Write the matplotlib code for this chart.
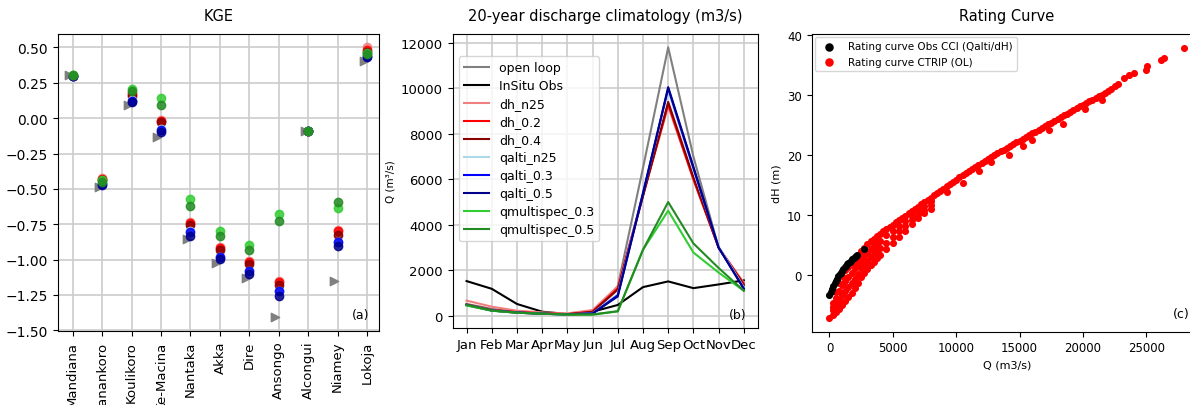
import matplotlib
matplotlib.use("Agg")
import matplotlib.pyplot as plt
import numpy as np

# --- KGE per station ---
stations = ["Mandiana", "Banankoro", "Koulikoro", "Ke-Macina", "Nantaka", "Akka",
            "Dire", "Ansongo", "Alcongui", "Niamey", "Lokoja"]
kge_open_loop = [0.305, -0.488, 0.09, -0.134, -0.853, -1.028, -1.131, -1.41, -0.09, -1.155, 0.405]
kge_dh_n25 = [0.30, -0.425, 0.175, -0.015, -0.735, -0.91, -1.01, -1.155, -0.09, -0.79, 0.50]
kge_dh_02 = [0.30, -0.43, 0.17, -0.02, -0.74, -0.915, -1.015, -1.16, -0.09, -0.80, 0.48]
kge_dh_04 = [0.30, -0.44, 0.16, -0.03, -0.755, -0.93, -1.03, -1.178, -0.09, -0.825, 0.47]
kge_qalti_n25 = [0.30, -0.46, 0.13, -0.08, -0.80, -0.98, -1.08, -1.22, -0.09, -0.875, 0.445]
kge_qalti_03 = [0.30, -0.465, 0.125, -0.085, -0.806, -0.983, -1.084, -1.226, -0.09, -0.879, 0.44]
kge_qalti_05 = [0.30, -0.47, 0.115, -0.101, -0.83, -0.998, -1.10, -1.261, -0.09, -0.907, 0.435]
kge_qms_03 = [0.305, -0.44, 0.207, 0.141, -0.573, -0.795, -0.896, -0.679, -0.09, -0.636, 0.46]
kge_qms_05 = [0.305, -0.448, 0.19, 0.094, -0.618, -0.837, -0.936, -0.724, -0.09, -0.594, 0.455]

# --- monthly discharge climatology (m3/s) ---
months = ["Jan", "Feb", "Mar", "Apr", "May", "Jun", "Jul", "Aug", "Sep", "Oct", "Nov", "Dec"]
q_open_loop = [520, 300, 180, 110, 60, 150, 1300, 6500, 11800, 7000, 3000, 1300]
q_insitu = [1525, 1185, 518, 178, 74, 178, 474, 1259, 1510, 1214, 1377, 1555]
q_dh_n25 = [666, 400, 222, 148, 104, 252, 1290, 5300, 9200, 6000, 3000, 1450]
q_dh_02 = [500, 260, 160, 110, 70, 180, 1200, 5300, 9300, 6000, 3000, 1400]
q_dh_04 = [480, 250, 150, 100, 65, 170, 1150, 5250, 9400, 6100, 3000, 1350]
q_qalti_n25 = [480, 240, 140, 90, 60, 110, 950, 5400, 9900, 6400, 3050, 1250]
q_qalti_03 = [480, 230, 140, 90, 60, 100, 900, 5400, 10000, 6500, 3000, 1200]
q_qalti_05 = [470, 230, 135, 88, 58, 95, 850, 5350, 10050, 6550, 3000, 1180]
q_qms_03 = [450, 220, 130, 90, 50, 50, 190, 2900, 4620, 2780, 1900, 1100]
q_qms_05 = [480, 230, 135, 90, 55, 55, 200, 2900, 5000, 3180, 2100, 1100]

# --- rating curves: discharge (m3/s) vs water height (m) ---
obs_q = [0, 100, 200, 300, 400, 500, 600, 700, 800, 900, 1000, 1100, 1200, 1300, 1400,
         1500, 1600, 1700, 1800, 1900, 2000, 2100, 2180, 2710]
obs_dh = [-3.3, -2.8, -2.3, -1.8, -1.4, -1.0, -0.6, -0.25, 0.1, 0.4, 0.7, 1.0, 1.3, 1.55, 1.8,
          2.0, 2.2, 2.4, 2.6, 2.8, 3.0, 3.2, 3.4, 4.4]

# CTRIP open loop, upper edge of the cloud
ctrip_q_top = [0, 250, 500, 750, 1000, 1250, 1500, 1750, 2000, 2250, 2500, 2750, 3000, 3250,
               3500, 3750, 4000, 4250, 4500, 4750, 5000, 5250, 5500, 5750, 6000, 6250, 6500,
               6750, 7000, 7250, 7500, 7750, 8000, 8250, 8500, 8750, 9000, 9250, 9500, 9750,
               10000, 10250, 10500, 10750, 11000, 11250, 11500, 11750, 12000, 12250, 12500,
               12750, 13000, 13250, 13500, 13750, 14000, 14250, 14500, 14750, 15000, 15250,
               15500, 15750, 16000, 16250, 16500, 16750, 17000, 17250, 17500, 17750, 18000,
               18250, 18500, 18750, 19000, 19250, 19500, 19750, 20000, 20250, 20500, 20750,
               21000, 21250, 21500, 21750, 22000, 22250, 22500, 22750,
               23240, 23630, 24030, 24950, 25080, 26130, 26400, 28000]
ctrip_dh_top = [-7.2, -4.6, -2.8, -1.3, -0.1, 0.75, 1.4, 2.0, 2.7, 3.35, 4.0, 4.55, 5.1, 5.6,
                6.05, 6.5, 6.9, 7.3, 7.7, 8.05, 8.4, 8.75, 9.1, 9.5, 9.9, 10.25, 10.6,
                11.0, 11.4, 11.75, 12.1, 12.5, 12.9, 13.25, 13.6, 14.0, 14.4, 14.75, 15.1, 15.5,
                15.9, 16.25, 16.6, 16.95, 17.3, 17.65, 18.0, 18.3, 18.6, 18.95, 19.3,
                19.65, 20.0, 20.3, 20.6, 20.9, 21.2, 21.5, 21.8, 22.1, 22.4, 22.7,
                23.0, 23.3, 23.6, 23.9, 24.2, 24.5, 24.8, 25.1, 25.4, 25.7, 26.0,
                26.3, 26.6, 26.9, 27.2, 27.5, 27.8, 28.1, 28.4, 28.7, 29.0, 29.2,
                29.5, 29.8, 30.0, 30.3, 30.6, 31.0, 31.5, 31.8,
                32.8, 33.3, 33.7, 34.2, 34.8, 35.8, 36.2, 37.9]

# CTRIP open loop, points spread below the upper edge
ctrip_q_low = [250, 500, 750, 1000, 1250, 1500, 1750, 2000, 2250, 2500, 2750, 3000, 3250,
               3500, 3750, 4000, 4500, 5000, 5500, 6000, 6500, 7000, 7500, 8000]
ctrip_dh_mid1 = [-5.3, -3.9, -2.7, -1.7, -1.0, -0.3, 0.3, 1.1, 1.8, 2.5, 3.1, 3.7, 4.3,
                 4.8, 5.3, 5.7, 6.6, 7.4, 8.2, 9.0, 9.9, 10.8, 11.5, 12.3]
ctrip_dh_mid2 = [-5.9, -5.0, -4.2, -3.4, -2.7, -2.0, -1.3, -0.6, 0.2, 1.1, 1.7, 2.4, 3.0,
                 3.5, 4.0, 4.5, 5.4, 6.3, 7.3, 8.2, 9.2, 10.1, 10.9, 11.6]
ctrip_dh_low = [-6.6, -6.1, -5.6, -5.0, -4.4, -3.7, -3.0, -2.2, -1.4, -0.4, 0.3, 1.0, 1.7,
                2.2, 2.8, 3.3, 4.3, 5.3, 6.4, 7.3, 8.5, 9.5, 10.3, 11.0]
ctrip_q_dip = [9290, 10500, 11800, 12710, 14200, 15300, 16000, 17300, 18400, 20200, 21500]
ctrip_dh_dip = [13.9, 15.4, 17.3, 18.9, 20.0, 21.5, 22.5, 24.2, 25.2, 27.6, 29.2]

fig = plt.figure(figsize=(11.9, 4.06), dpi=100)
title_font = ["Liberation Sans Narrow", "DejaVu Sans"]

# (a) KGE scatter
ax1 = fig.add_axes([0.0487, 0.1823, 0.2697, 0.7315])
x = np.arange(len(stations))
ax1.scatter(x - 0.12, kge_open_loop, marker=">", color="gray", s=36, zorder=3)
kge_series = [
    (kge_dh_n25, "lightcoral"), (kge_dh_02, "red"), (kge_dh_04, "darkred"),
    (kge_qalti_n25, "lightblue"), (kge_qalti_03, "blue"), (kge_qalti_05, "darkblue"),
    (kge_qms_03, "limegreen"), (kge_qms_05, "forestgreen"),
]
for vals, col in kge_series:
    ax1.scatter(x, vals, color=col, s=36, alpha=0.85, zorder=3)
ax1.set_xticks(x)
ax1.set_xticklabels(stations, rotation=90, fontsize=9.5)
ax1.set_xlim(-0.5, 10.4)
ax1.set_yticks([0.5, 0.25, 0.0, -0.25, -0.5, -0.75, -1.0, -1.25, -1.5])
ax1.tick_params(axis="y", labelsize=10)
ax1.grid(True, color="#cccccc", linewidth=1.2)
ax1.set_axisbelow(True)
ax1.set_title("KGE", fontsize=10.5, family=title_font, pad=10)
ax1.text(0.916, 0.045, "(a)", transform=ax1.transAxes, fontsize=9)

# (b) climatology lines
ax2 = fig.add_axes([0.3804, 0.1897, 0.2563, 0.7241])
m = np.arange(len(months))
clim_series = [
    (q_open_loop, "gray", "open loop"), (q_insitu, "black", "InSitu Obs"),
    (q_dh_n25, "lightcoral", "dh_n25"), (q_dh_02, "red", "dh_0.2"),
    (q_dh_04, "darkred", "dh_0.4"), (q_qalti_n25, "lightblue", "qalti_n25"),
    (q_qalti_03, "blue", "qalti_0.3"), (q_qalti_05, "darkblue", "qalti_0.5"),
    (q_qms_03, "limegreen", "qmultispec_0.3"), (q_qms_05, "forestgreen", "qmultispec_0.5"),
]
for vals, col, lab in clim_series:
    ax2.plot(m, vals, color=col, label=lab, linewidth=1.5)
ax2.set_xticks(m)
ax2.set_xticklabels(months, fontsize=9.5)
ax2.tick_params(axis="y", labelsize=9.5)
ax2.set_ylabel("Q (m³/s)", fontsize=7.5)
ax2.grid(True, color="#cccccc", linewidth=1.2)
ax2.legend(loc="upper left", bbox_to_anchor=(0.0, 0.945), fontsize=9, labelspacing=0.4)
ax2.set_title("20-year discharge climatology (m3/s)", fontsize=10.5, family=title_font, pad=10)
ax2.text(0.906, 0.035, "(b)", transform=ax2.transAxes, fontsize=9)

# (c) rating curves
ax3 = fig.add_axes([0.6821, 0.1805, 0.328, 0.7333])
red_q = ctrip_q_top + ctrip_q_low * 3 + ctrip_q_dip
red_dh = ctrip_dh_top + ctrip_dh_mid1 + ctrip_dh_mid2 + ctrip_dh_low + ctrip_dh_dip
ax3.scatter(red_q, red_dh, color="red", s=26, linewidths=0, label="Rating curve CTRIP (OL)", zorder=2)
ax3.scatter(obs_q, obs_dh, color="black", s=26, linewidths=0, label="Rating curve Obs CCI (Qalti/dH)", zorder=3)
handles, labels = ax3.get_legend_handles_labels()
ax3.legend(handles[::-1], labels[::-1], loc="upper left", fontsize=7.5, labelspacing=0.55,
           markerscale=1.2, borderaxespad=0.3)
ax3.set_xlabel("Q (m3/s)", fontsize=8)
ax3.set_ylabel("dH (m)", fontsize=8)
ax3.tick_params(labelsize=8.5)
ax3.set_title("Rating Curve", fontsize=10.5, family=title_font, pad=10)
ax3.text(0.925, 0.05, "(c)", transform=ax3.transAxes, fontsize=9)

plt.savefig("out.png", dpi=100)
plt.close()
